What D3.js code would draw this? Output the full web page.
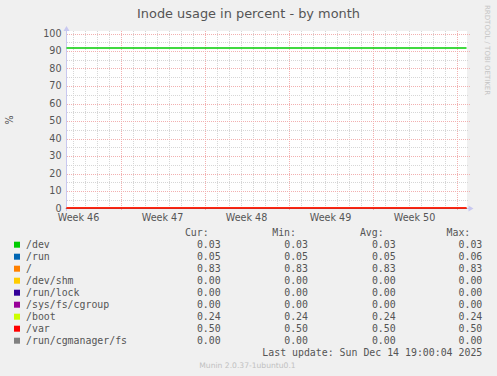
<!DOCTYPE html>
<html>
<head>
<meta charset="utf-8">
<script src="https://cdn.jsdelivr.net/npm/d3@7/dist/d3.min.js"></script>
<style>
  html, body { margin: 0; padding: 0; background: #f0f0f0; }
  svg { display: block; }
</style>
</head>
<body>
<svg id="chart" width="497" height="376"></svg>
<script>
// ---- data ----
const chartTitle = "Inode usage in percent - by month";
const yAxisLabel = "%";
const seriesNames = ["/dev", "/run", "/", "/dev/shm", "/run/lock", "/sys/fs/cgroup", "/boot", "/var", "/run/cgmanager/fs"];
const seriesColors = ["#00cc00", "#0066b3", "#ff8000", "#ffcc00", "#330099", "#990099", "#ccff00", "#ff0000", "#808080"];
const curValues = [0.03, 0.05, 0.83, 0.00, 0.00, 0.00, 0.24, 0.50, 0.00];
const minValues = [0.03, 0.05, 0.83, 0.00, 0.00, 0.00, 0.24, 0.50, 0.00];
const avgValues = [0.03, 0.05, 0.83, 0.00, 0.00, 0.00, 0.24, 0.50, 0.00];
const maxValues = [0.03, 0.06, 0.83, 0.00, 0.00, 0.00, 0.24, 0.50, 0.00];
// plotted levels
const sampleTimes = ["2025-11-12T12:00:00Z", "2025-11-19T12:00:00Z", "2025-11-26T12:00:00Z", "2025-12-03T12:00:00Z", "2025-12-10T12:00:00Z", "2025-12-15T20:00:00Z"];
const plotDev = [92, 92, 92, 92, 92, 92];
const plotRun = [0.05, 0.05, 0.05, 0.05, 0.05, 0.05];
const plotRoot = [0.83, 0.83, 0.83, 0.83, 0.83, 0.83];
const plotDevShm = [0, 0, 0, 0, 0, 0];
const plotRunLock = [0, 0, 0, 0, 0, 0];
const plotCgroup = [0, 0, 0, 0, 0, 0];
const plotBoot = [0.24, 0.24, 0.24, 0.24, 0.24, 0.24];
const plotVar = [0.5, 0.5, 0.5, 0.5, 0.5, 0.5];
const plotCgmanager = [0, 0, 0, 0, 0, 0];
const yTicks = [0, 10, 20, 30, 40, 50, 60, 70, 80, 90, 100];
const weekLabels = ["Week 46", "Week 47", "Week 48", "Week 49", "Week 50"];
const weekStarts = ["2025-11-10T00:00:00Z", "2025-11-17T00:00:00Z", "2025-11-24T00:00:00Z", "2025-12-01T00:00:00Z", "2025-12-08T00:00:00Z"];
const timeDomain = ["2025-11-12T12:00:00Z", "2025-12-15T20:00:00Z"];
const lastUpdate = "Last update: Sun Dec 14 19:00:04 2025";
const footer = "Munin 2.0.37-1ubuntu0.1";
const sideText = "RRDTOOL / TOBI OETIKER";

// ---- drawing ----
const svg = d3.select("#chart");
const sans = "DejaVu Sans, sans-serif";
const mono = "DejaVu Sans Mono, monospace";

const pLeft = 66.5, pRight = 466.5, pTop = 33.5, pBottom = 208.5;
const x = d3.scaleUtc().domain(timeDomain.map(d => new Date(d))).range([pLeft, pRight]);
const y = d3.scaleLinear().domain([0, 100]).range([pBottom, pTop]);

svg.append("defs").append("clipPath").attr("id", "plotclip")
  .append("rect").attr("x", 66).attr("y", 25).attr("width", 401).attr("height", 184);

svg.append("rect").attr("width", 497).attr("height", 376).attr("fill", "#f0f0f0");
svg.append("rect").attr("x", 67).attr("y", 31).attr("width", 400).attr("height", 177).attr("fill", "#ffffff");

// minor grid
const g = svg.append("g").attr("shape-rendering", "crispEdges");
const minorY = d3.range(5, 100, 10);
g.selectAll(".my").data(minorY).join("line")
  .attr("x1", 67).attr("x2", 468)
  .attr("y1", d => Math.round(y(d)) + 0.5).attr("y2", d => Math.round(y(d)) + 0.5)
  .attr("stroke", "#d6d6d6").attr("stroke-dasharray", "1,1");
const days = d3.utcDay.range(new Date(timeDomain[0]), new Date(timeDomain[1])).filter(d => d.getUTCDay() !== 1);
g.selectAll(".mx").data(days).join("line")
  .attr("x1", d => Math.round(x(d)) + 0.5).attr("x2", d => Math.round(x(d)) + 0.5)
  .attr("y1", 31).attr("y2", 208)
  .attr("stroke", "#d6d6d6").attr("stroke-dasharray", "1,1");

// major grid
g.selectAll(".My").data(yTicks.slice(1)).join("line")
  .attr("x1", 67).attr("x2", 470)
  .attr("y1", d => Math.round(y(d)) + 0.5).attr("y2", d => Math.round(y(d)) + 0.5)
  .attr("stroke", "#f2b0b0").attr("stroke-dasharray", "1,1");
const mondays = d3.utcMonday.range(new Date(timeDomain[0]), new Date(timeDomain[1]));
g.selectAll(".Mx").data(mondays).join("line")
  .attr("x1", d => Math.round(x(d)) + 0.5).attr("x2", d => Math.round(x(d)) + 0.5)
  .attr("y1", 31).attr("y2", 211)
  .attr("stroke", "#f2b0b0").attr("stroke-dasharray", "1,1");

// axes
const axisColor = "#c8c8f0";
svg.append("line").attr("x1", pLeft).attr("x2", pLeft).attr("y1", pBottom + 2).attr("y2", 29).attr("stroke", axisColor).attr("shape-rendering", "crispEdges");
svg.append("path").attr("d", `M${pLeft - 3},${31} L${pLeft + 3},${31} L${pLeft},${26} Z`).attr("fill", axisColor);
svg.append("line").attr("x1", pLeft - 2).attr("x2", pRight + 3).attr("y1", pBottom).attr("y2", pBottom).attr("stroke", axisColor).attr("shape-rendering", "crispEdges");
svg.append("path").attr("d", `M${pRight + 2},${pBottom - 3} L${pRight + 2},${pBottom + 3} L${pRight + 7},${pBottom} Z`).attr("fill", axisColor);

// series lines (snapped to pixel rows, clipped to the plot like rrdtool)
const plotSeries = [plotDev, plotRun, plotRoot, plotDevShm, plotRunLock, plotCgroup, plotBoot, plotCgmanager, plotVar];
const plotColors = [seriesColors[0], seriesColors[1], seriesColors[2], seriesColors[3], seriesColors[4], seriesColors[5], seriesColors[6], seriesColors[8], seriesColors[7]];
const line = d3.line().x(d => x(d.t)).y(d => Math.floor(y(d.v)) + 1);
const sg = svg.append("g").attr("clip-path", "url(#plotclip)");
plotSeries.forEach((vals, i) => {
  const pts = vals.map((v, j) => ({ t: new Date(sampleTimes[j]), v: v }));
  sg.append("path").datum(pts).attr("d", line)
    .attr("fill", "none").attr("stroke", plotColors[i]).attr("stroke-width", 1.5);
});

// y tick labels
svg.selectAll(".yt").data(yTicks).join("text")
  .attr("x", 61.5).attr("y", d => y(d)).attr("dy", "0.36em")
  .attr("text-anchor", "end").attr("font-family", sans).attr("font-size", 9.6)
  .attr("fill", "#555").text(d => d);

// week labels
svg.selectAll(".wl").data(weekLabels).join("text")
  .attr("x", (d, i) => x(d3.utcHour.offset(new Date(weekStarts[i]), 84)))
  .attr("y", 217.5).attr("dy", "0.36em")
  .attr("text-anchor", "middle").attr("font-family", sans).attr("font-size", 9.6)
  .attr("fill", "#555").text(d => d);

// title
svg.append("text").attr("x", 248.5).attr("y", 13.5).attr("dy", "0.36em")
  .attr("text-anchor", "middle").attr("font-family", sans).attr("font-size", 12.9)
  .attr("fill", "#555").text(chartTitle);

// y label
svg.append("text").attr("transform", "translate(10,120) rotate(-90)").attr("dy", "0.36em")
  .attr("text-anchor", "middle").attr("font-family", sans).attr("font-size", 9.6)
  .attr("fill", "#555").text(yAxisLabel);

// side text
svg.append("text").attr("transform", "translate(488,5) rotate(90)").attr("dy", "0.36em")
  .attr("text-anchor", "start").attr("font-family", sans).attr("font-size", 7)
  .attr("fill", "#c4c4c4").text(sideText);

// legend
const lf = 9.9;
const colEnds = [220.7, 308, 395.7, 482.3];
const headers = ["Cur:", "Min:", "Avg:", "Max:"];
svg.selectAll(".hd").data(headers).join("text")
  .attr("x", (d, i) => colEnds[i] - 12).attr("y", 232.5).attr("dy", "0.36em")
  .attr("text-anchor", "end").attr("font-family", mono).attr("font-size", lf)
  .attr("fill", "#555").text(d => d);
const rowY = i => 244.7 + i * 12;
svg.selectAll(".sw").data(seriesNames).join("rect")
  .attr("x", 14).attr("y", (d, i) => rowY(i) - 3).attr("width", 6).attr("height", 6)
  .attr("fill", (d, i) => seriesColors[i]);
svg.selectAll(".nm").data(seriesNames).join("text")
  .attr("x", 26).attr("y", (d, i) => rowY(i)).attr("dy", "0.36em")
  .attr("font-family", mono).attr("font-size", lf).attr("fill", "#555").text(d => d);
[curValues, minValues, avgValues, maxValues].forEach((arr, c) => {
  svg.selectAll(".v" + c).data(arr).join("text")
    .attr("x", colEnds[c]).attr("y", (d, i) => rowY(i)).attr("dy", "0.36em")
    .attr("text-anchor", "end").attr("font-family", mono).attr("font-size", lf)
    .attr("fill", "#555").text(d => d.toFixed(2));
});
svg.append("text").attr("x", colEnds[3]).attr("y", 352.7).attr("dy", "0.36em")
  .attr("text-anchor", "end").attr("font-family", mono).attr("font-size", lf)
  .attr("fill", "#555").text(lastUpdate);
svg.append("text").attr("x", 247.5).attr("y", 365).attr("dy", "0.36em")
  .attr("text-anchor", "middle").attr("font-family", sans).attr("font-size", 7.6)
  .attr("fill", "#c0c0c0").text(footer);
</script>
</body>
</html>
